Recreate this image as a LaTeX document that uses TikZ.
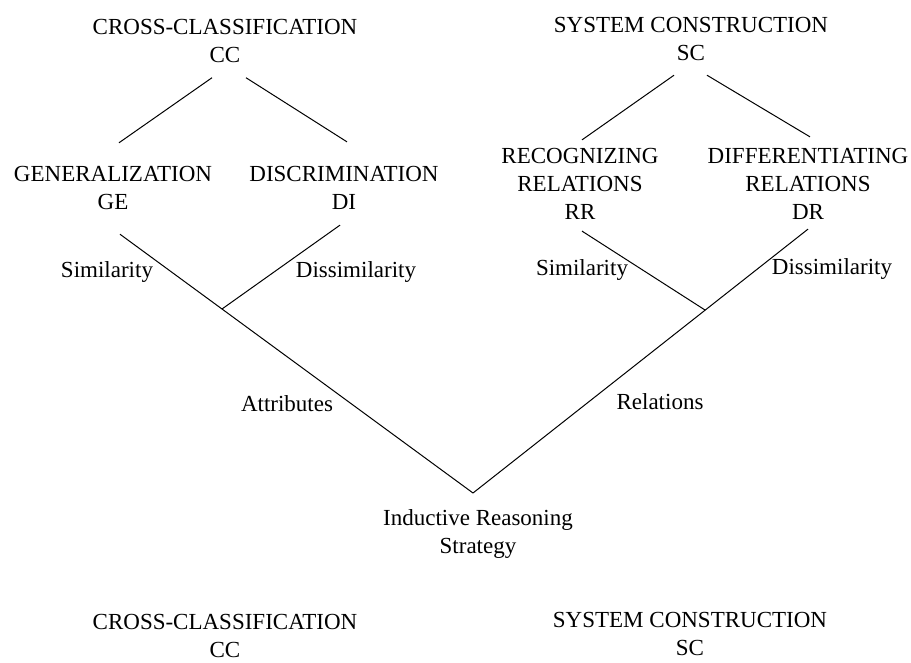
\documentclass[tikz,border=0pt]{standalone}
\usepackage{fontspec}
\setmainfont{Liberation Serif}
\tikzstyle{term}=[align=center, inner sep=0pt, font=\fontsize{11.5}{14}\selectfont]
\tikzstyle{cue}=[inner sep=0pt, font=\fontsize{11.5}{14}\selectfont]
\newcommand{\term}{\node[term]}
\newcommand{\cue}{\node[cue]}

\begin{document}
\begin{tikzpicture}[x=0.5pt, y=-0.5pt, line width=0.5pt]
    \useasboundingbox (0,0) rectangle (911,663);
    % top of the two trees
    \term (cc) at (225,41.5) {CROSS-CLASSIFICATION\\CC};
    \term (sc) at (691,39) {SYSTEM CONSTRUCTION\\SC};
    \term (ge) at (113,188) {GENERALIZATION\\GE};
    \term (di) at (344,188) {DISCRIMINATION\\DI};
    \term (rr) at (580,184) {RECOGNIZING\\RELATIONS\\RR};
    \term (dr) at (808,184) {DIFFERENTIATING\\RELATIONS\\DR};
    % strategy
    \term (irs) at (478,534) {Inductive Reasoning\\Strategy};
    \term (ccb) at (225,636) {CROSS-CLASSIFICATION\\CC};
    \term (scb) at (690,634) {SYSTEM CONSTRUCTION\\SC};
    % branch labels
    \cue (siml) at (107,272) {Similarity};
    \cue (dissl) at (356,272) {Dissimilarity};
    \cue (attr) at (287,404) {Attributes};
    \cue (simr) at (582,270) {Similarity};
    \cue (dissr) at (832,269) {Dissimilarity};
    \cue (rel) at (660,402) {Relations};
    \coordinate (apex) at (473,493);
    \coordinate (jl) at (222,309);
    \coordinate (jr) at (705,310);
    \path
        ([shift={(-13,14)}]cc.south) edge ([shift={(6,-23)}]ge.north)
        ([shift={(21,14)}]cc.south) edge ([shift={(3,-24)}]di.north)
        ([shift={(-17,14)}]sc.south) edge ([shift={(2,-8)}]rr.north)
        ([shift={(16,14)}]sc.south) edge ([shift={(2,-11)}]dr.north)
        ([shift={(7,24)}]ge.south) edge (apex)
        ([shift={(-4,15)}]di.south) edge (jl)
        ([shift={(2,11)}]rr.south) edge (jr)
        ([shift={(0,9)}]dr.south) edge (apex)
    ;
\end{tikzpicture}
\end{document}
